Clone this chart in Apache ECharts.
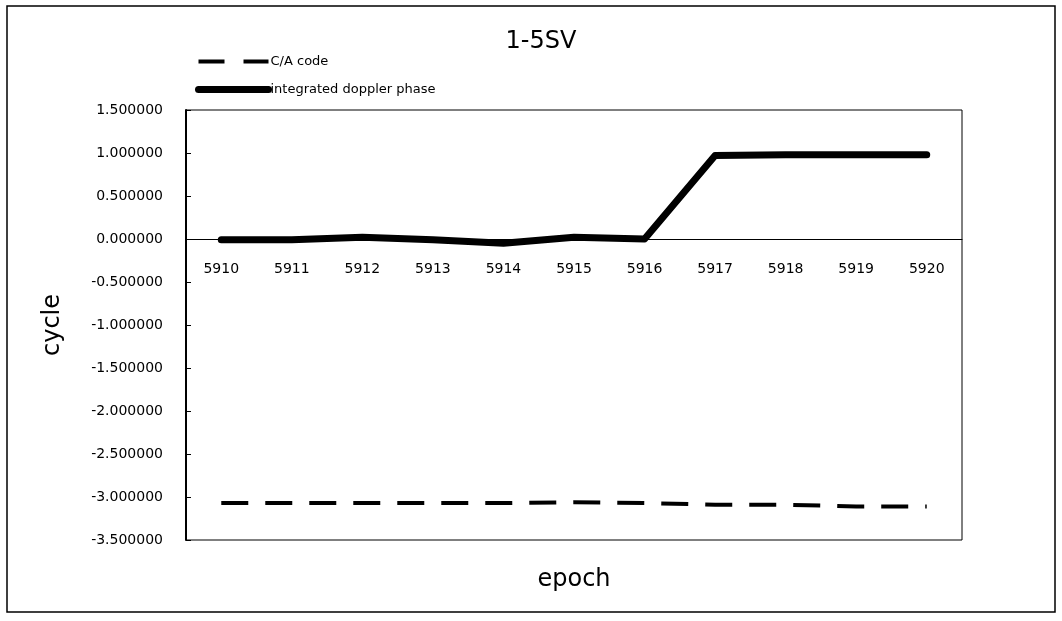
<!DOCTYPE html>
<html>
<head>
<meta charset="utf-8">
<script src="https://cdn.jsdelivr.net/npm/echarts@6/dist/echarts.min.js"></script>
<style>
  html, body { margin: 0; padding: 0; background: #fff; }
  #chart { width: 1062px; height: 621px; }
</style>
</head>
<body>
<div id="chart"></div>
<script>
// epochs on the x axis
const epochs = ['5910', '5911', '5912', '5913', '5914', '5915', '5916', '5917', '5918', '5919', '5920'];
// C/A code residual (cycle)
const caCode = [-3.07, -3.07, -3.07, -3.07, -3.07, -3.06, -3.07, -3.09, -3.09, -3.11, -3.11];
// integrated doppler phase residual (cycle)
const dopplerPhase = [-0.01, -0.01, 0.02, -0.01, -0.05, 0.02, 0.0, 0.97, 0.98, 0.98, 0.98];

const FONT = '"DejaVu Sans", Verdana, sans-serif';

const myChart = echarts.init(document.getElementById('chart'));

const option = {
  backgroundColor: '#fff',
  animation: false,
  color: ['#000', '#000'],
  title: {
    text: '1-5SV',
    left: 536,
    textAlign: 'center',
    top: 25,
    textStyle: { fontFamily: FONT, fontSize: 24, fontWeight: 'normal', color: '#000' }
  },
  legend: {
    orient: 'vertical',
    left: 190,
    top: 50,
    itemWidth: 70,
    itemHeight: 14,
    itemGap: 15,
    data: [
      { name: 'C/A code', itemStyle: { opacity: 0 }, lineStyle: { width: 4, type: [26, 19], color: '#000' } },
      { name: 'integrated doppler phase', itemStyle: { opacity: 0 }, lineStyle: { width: 7, color: '#000', cap: 'round' } }
    ],
    textStyle: { fontFamily: FONT, fontSize: 13, color: '#000', padding: [0, 0, 0, -3] }
  },
  grid: {
    left: 186,
    right: 100,
    top: 110,
    bottom: 81,
    outerBoundsMode: 'none',
    containLabel: false,
    show: true,
    borderColor: '#000',
    borderWidth: 1
  },
  xAxis: {
    type: 'category',
    data: epochs,
    boundaryGap: true,
    // sits on the 0 line: 301px above the grid bottom
    offset: -301,
    name: 'epoch',
    nameLocation: 'middle',
    nameGap: 329,
    nameTextStyle: { fontFamily: FONT, fontSize: 24, color: '#000' },
    axisLine: { onZero: false, lineStyle: { color: '#000', width: 1 } },
    axisTick: { inside: true, length: 5, lineStyle: { color: '#000' } },
    axisLabel: { fontFamily: FONT, fontSize: 14, color: '#000', margin: 23 },
    splitLine: { show: false }
  },
  yAxis: {
    type: 'value',
    min: -3.5,
    max: 1.5,
    interval: 0.5,
    name: 'cycle',
    nameLocation: 'middle',
    nameGap: 121,
    nameTextStyle: { fontFamily: FONT, fontSize: 24, color: '#000' },
    axisLine: { show: true, lineStyle: { color: '#000', width: 2 } },
    axisTick: { show: true, inside: true, length: 5, lineStyle: { color: '#000' } },
    axisLabel: {
      fontFamily: FONT, fontSize: 14, color: '#000', margin: 23,
      formatter: (v) => v.toFixed(6)
    },
    splitLine: { show: false }
  },
  series: [
    {
      name: 'C/A code',
      type: 'line',
      data: caCode,
      symbol: 'none',
      itemStyle: { color: '#000' },
      lineStyle: { color: '#000', width: 4, type: [27, 17] }
    },
    {
      name: 'integrated doppler phase',
      type: 'line',
      data: dopplerPhase,
      symbol: 'none',
      itemStyle: { color: '#000' },
      lineStyle: { color: '#000', width: 7, cap: 'round', join: 'round' }
    }
  ],
  graphic: [
    {
      type: 'rect',
      shape: { x: 7, y: 6, width: 1048, height: 606 },
      style: { fill: null, stroke: '#000', lineWidth: 1.5 },
      silent: true,
      z: -1
    }
  ]
};

myChart.setOption(option);
window.addEventListener('resize', myChart.resize);
</script>
</body>
</html>
